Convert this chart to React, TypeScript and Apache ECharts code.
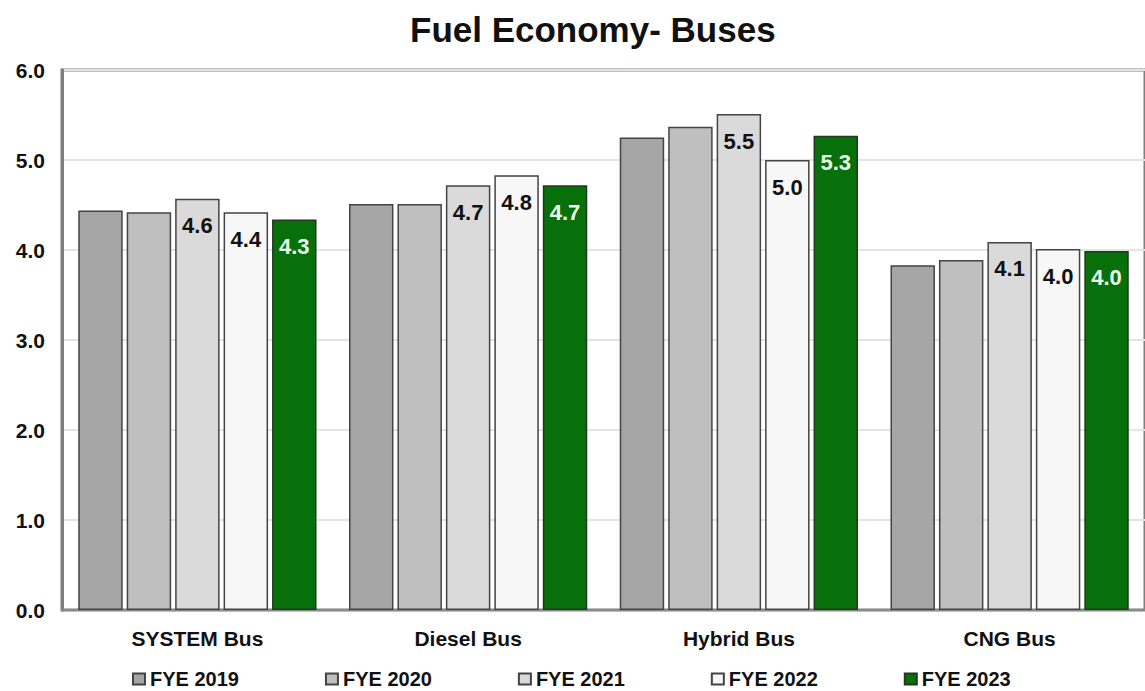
import React, { useEffect, useRef } from "react";
import * as echarts from "echarts";

const categories = ["SYSTEM Bus", "Diesel Bus", "Hybrid Bus", "CNG Bus"];
const seriesNames = ["FYE 2019", "FYE 2020", "FYE 2021", "FYE 2022", "FYE 2023"];
const fye2019 = [4.44, 4.51, 5.25, 3.83];
const fye2020 = [4.42, 4.51, 5.37, 3.89];
const fye2021 = [4.57, 4.72, 5.51, 4.09];
const fye2022 = [4.42, 4.83, 5.0, 4.01];
const fye2023 = [4.34, 4.72, 5.27, 3.99];
const yTicks = [0, 1, 2, 3, 4, 5, 6];

const colors = ["#a6a6a6", "#bfbfbf", "#dadada", "#f7f7f7", "#08700a"];
const showLabel = [false, false, true, true, true];
const labelColors = ["#111", "#111", "#111", "#111", "#eaffea"];

const sans = "'Liberation Sans', Arial, sans-serif";

export default function App() {
  const ref = useRef<HTMLDivElement>(null);
  useEffect(() => {
    if (!ref.current) return;
    const chart = echarts.init(ref.current, undefined, { renderer: "svg" });
    const data = [fye2019, fye2020, fye2021, fye2022, fye2023];
    chart.setOption({
      animation: false,
      backgroundColor: "#ffffff",
      title: {
        text: "Fuel Economy- Buses",
        left: 405,
        top: 7,
        textStyle: { fontFamily: sans, fontSize: 35, fontWeight: "bold", color: "#111" },
      },
      legend: {
        data: seriesNames,
        left: 132,
        top: 668,
        padding: 0,
        icon: "rect",
        itemWidth: 12,
        itemHeight: 11,
        itemGap: 86,
        textStyle: {
          fontFamily: sans,
          fontSize: 20,
          lineHeight: 22,
          fontWeight: "bold",
          color: "#111",
        },
      },
      grid: {
        left: 62,
        top: 70,
        width: 1096,
        height: 540,
        show: true,
        borderColor: "#7f7f7f",
        borderWidth: 3,
        backgroundColor: "transparent",
      },
      xAxis: {
        type: "category",
        data: categories,
        axisTick: { show: false },
        axisLine: { lineStyle: { color: "#8a8a8a", width: 2 } },
        axisLabel: {
          fontFamily: sans,
          fontSize: 21,
          fontWeight: "bold",
          color: "#111",
          margin: 18,
        },
      },
      yAxis: {
        type: "value",
        min: yTicks[0],
        max: yTicks[yTicks.length - 1],
        interval: 1,
        axisLine: { show: true, lineStyle: { color: "#7f7f7f", width: 3 } },
        axisTick: { show: false },
        splitLine: { lineStyle: { color: "#e4e4e4", width: 2 } },
        axisLabel: {
          fontFamily: sans,
          fontSize: 21,
          fontWeight: "bold",
          color: "#111",
          margin: 17,
          formatter: (v: number) => v.toFixed(1),
        },
      },
      series: seriesNames.map((name, i) => ({
        name,
        type: "bar",
        data: data[i],
        barGap: "9%",
        barCategoryGap: "12%",
        itemStyle: {
          color: colors[i],
          borderColor: i === 4 ? "#1f3a1f" : "#444",
          borderWidth: 1.5,
        },
        label: {
          show: showLabel[i],
          position: "insideTop",
          distance: 16,
          fontFamily: sans,
          fontSize: 22,
          fontWeight: "bold",
          color: labelColors[i],
          formatter: (p: any) => Number(p.value).toFixed(1),
        },
      })),
    });
    return () => chart.dispose();
  }, []);
  return (
    <div
      ref={ref}
      style={{ position: "absolute", left: 0, top: 0, width: 1145, height: 691 }}
    />
  );
}
